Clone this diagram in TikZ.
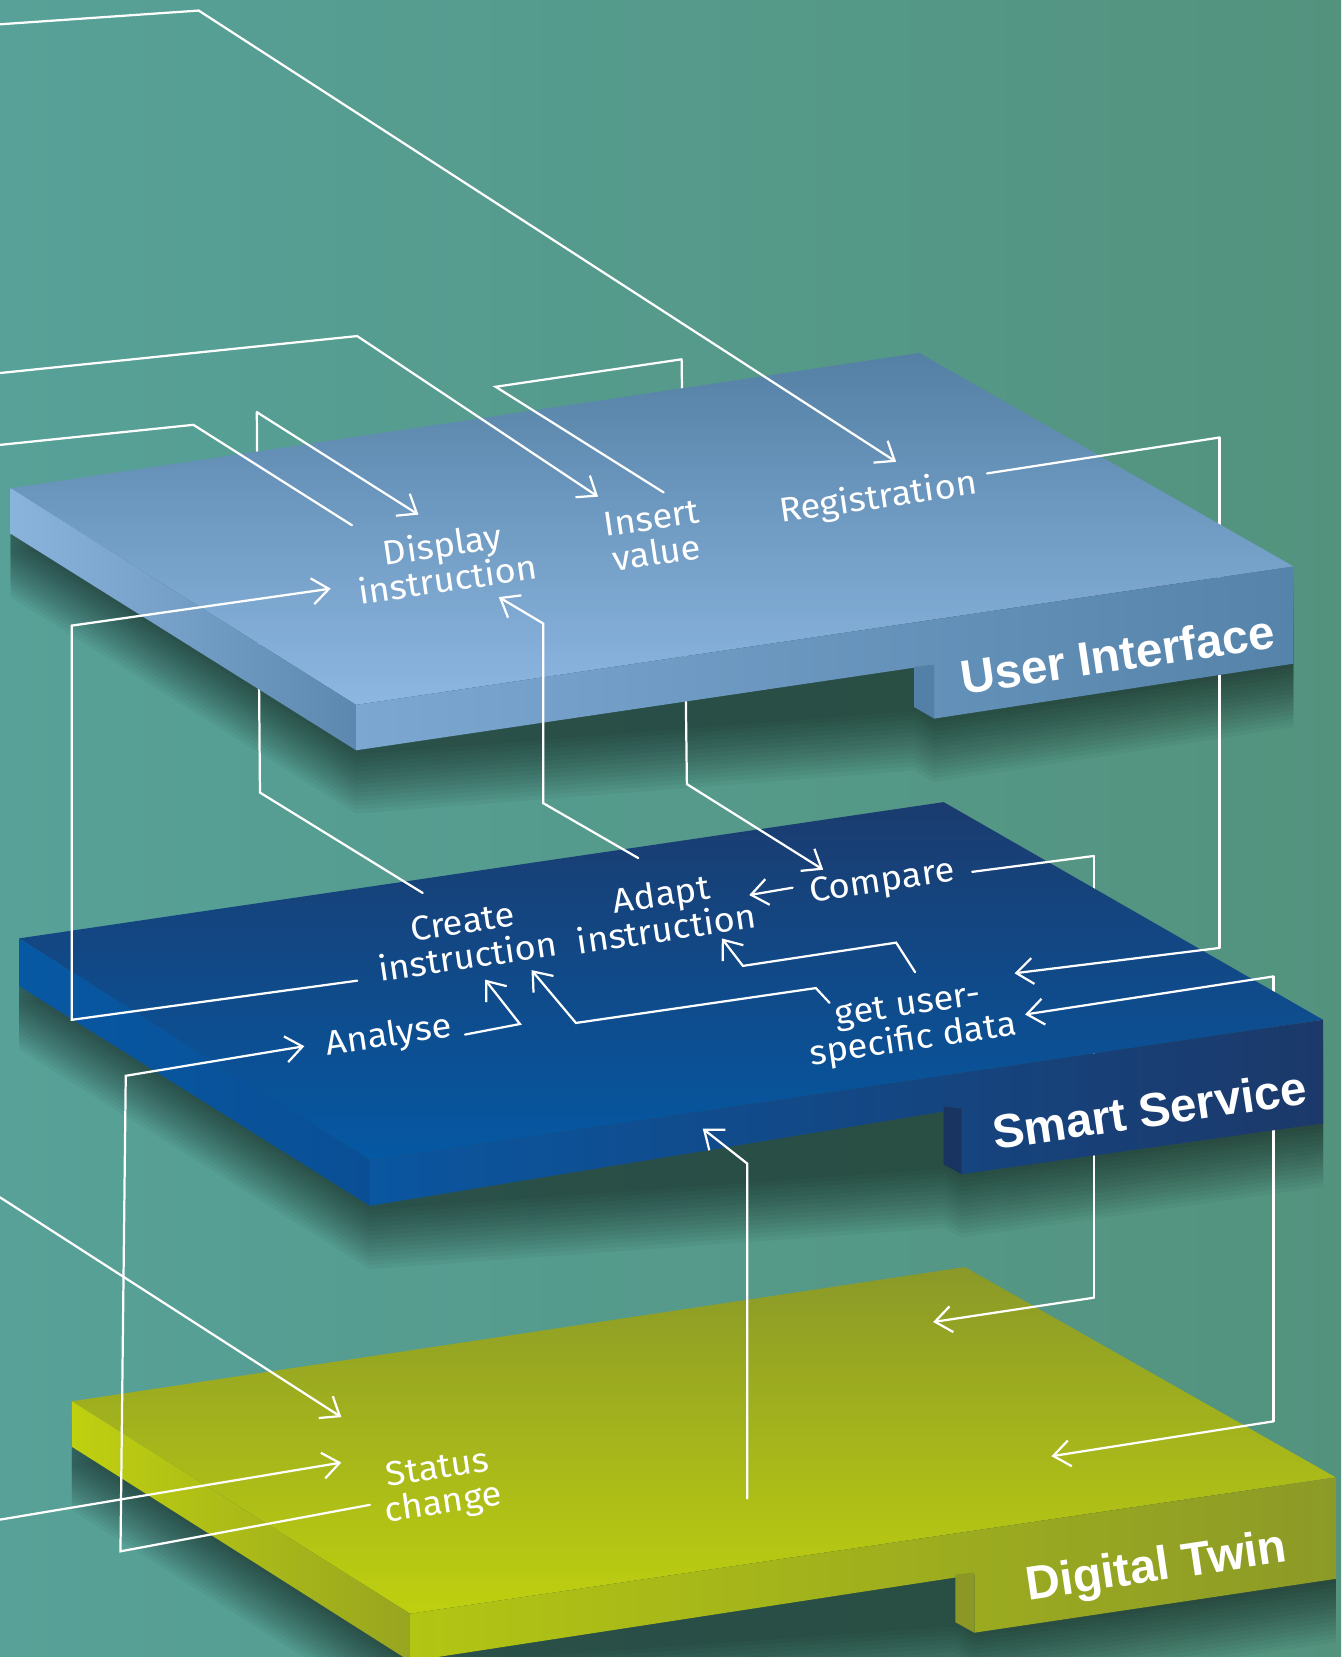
\documentclass[tikz,border=0pt]{standalone}
\usepackage{fontspec}
\usetikzlibrary{arrows.meta}
\IfFontExistsTF{Fira Sans Book}
 {\newfontfamily\labfont[FakeStretch=1.06]{Fira Sans Book}}
 {\newfontfamily\labfont[FakeStretch=1.06]{Fira Sans}}
\newfontfamily\titlefont{Liberation Sans}
\definecolor{bgL}{HTML}{57A198}
\definecolor{bgR}{HTML}{53937E}
\definecolor{uiTopBack}{HTML}{5480A5}
\definecolor{uiTopFront}{HTML}{8DB7E1}
\definecolor{uiSideL}{HTML}{8BB4DD}
\definecolor{uiSideR}{HTML}{5C88AF}
\definecolor{uiFrontL}{HTML}{7CA7D1}
\definecolor{uiFrontR}{HTML}{5583A9}
\definecolor{uiTab}{HTML}{5280A6}
\definecolor{ssTopBack}{HTML}{1B3C6F}
\definecolor{ssTopFront}{HTML}{0558A3}
\definecolor{ssSideL}{HTML}{0758A3}
\definecolor{ssSideR}{HTML}{0A4F96}
\definecolor{ssFrontL}{HTML}{0A56A0}
\definecolor{ssFrontR}{HTML}{1C396A}
\definecolor{ssTab}{HTML}{1A3462}
\definecolor{dtTopBack}{HTML}{8A9928}
\definecolor{dtTopFront}{HTML}{BFD00F}
\definecolor{dtSideL}{HTML}{BFD010}
\definecolor{dtSideR}{HTML}{98A520}
\definecolor{dtFrontL}{HTML}{B3C513}
\definecolor{dtFrontR}{HTML}{8C9A27}
\definecolor{dtTab}{HTML}{8B9826}
\tikzset{
  conn/.style={draw=white, line width=1.2pt, line cap=round},
  >={Straight Barb[length=9pt,width=14pt]},
  lab/.style={text=white, font=\labfont\fontsize{18.5}{19}\selectfont, align=center, rotate=8.4, inner sep=0pt},
  ttl/.style={text=white, font=\titlefont\bfseries\fontsize{25.6}{25.6}\selectfont, rotate=8.4, inner sep=0pt, anchor=base},
  shadowfill/.style={fill=black, opacity=0.04}
}
\begin{document}
\begin{tikzpicture}[x=0.02cm,y=-0.02cm]
\useasboundingbox (0,0) rectangle (1269,1568);
\shade[left color=bgL, right color=bgR] (0,0) rectangle (1269,1568);

% ---------- coordinates of connector ends ----------
\coordinate (c1a) at (0,23);    \coordinate (c1b) at (188,10);   \coordinate (c1c) at (848,437);
\coordinate (c2a) at (0,353);   \coordinate (c2b) at (338,318);  \coordinate (c2c) at (566,470);
\coordinate (c3a) at (333,497); \coordinate (c3b) at (183,402);  \coordinate (c3c) at (0,421);
\coordinate (c4a) at (400,845); \coordinate (c4b) at (246,750);  \coordinate (c4c) at (243,390); \coordinate (c4d) at (396,487);
\coordinate (c5a) at (338,928); \coordinate (c5b) at (68,965);   \coordinate (c5c) at (68,592);  \coordinate (c5d) at (313,557);
\coordinate (c6a) at (604,812); \coordinate (c6b) at (514,760);  \coordinate (c6c) at (514,590); \coordinate (c6d) at (472,565);
\coordinate (c7a) at (628,466); \coordinate (c7b) at (469,366);  \coordinate (c7c) at (645,340); \coordinate (c7d) at (650,742); \coordinate (c7e) at (779,823);
\coordinate (c8a) at (934,448); \coordinate (c8b) at (1154,414); \coordinate (c8c) at (1154,897); \coordinate (c8d) at (960,921);
\coordinate (c9a) at (920,825); \coordinate (c9b) at (1035,810); \coordinate (c9c) at (1035,1228); \coordinate (c9d) at (883,1251);
\coordinate (c10a) at (970,960); \coordinate (c10b) at (1205,924); \coordinate (c10c) at (1205,1345); \coordinate (c10d) at (995,1378);
\coordinate (c11a) at (707,1418); \coordinate (c11b) at (707,1101); \coordinate (c11c) at (665,1068);
\coordinate (c12a) at (350,1424); \coordinate (c12b) at (114,1468); \coordinate (c12c) at (119,1018); \coordinate (c12d) at (288,990);
\coordinate (c13a) at (440,979); \coordinate (c13b) at (492,969); \coordinate (c13c) at (459,927);
\coordinate (c14a) at (785,949); \coordinate (c14b) at (772,935); \coordinate (c14c) at (545,968); \coordinate (c14d) at (503,918);
\coordinate (c15a) at (866,920); \coordinate (c15b) at (848,892); \coordinate (c15c) at (703,914); \coordinate (c15d) at (683,888);
\coordinate (c16a) at (750,840); \coordinate (c16b) at (709,847);
\coordinate (c17a) at (0,1133); \coordinate (c17b) at (323,1341);
\coordinate (c18a) at (0,1438); \coordinate (c18b) at (323,1384);

% ---------- shadows ----------
\foreach \d in {4,8,...,60}{
  \begin{scope}[shift={(0,\d)}]
    \fill[shadowfill] (10,462) -- (870,334) -- (1224,536) -- (1224,628) -- (884,680) -- (865,669) -- (337,710) -- (10,505) -- cycle;
    \fill[shadowfill] (18,888) -- (893,759) -- (1252,965) -- (1252,1063) -- (910,1111) -- (893,1102) -- (350,1141) -- (18,933) -- cycle;
    \fill[shadowfill] (68,1326) -- (913,1199) -- (1264,1398) -- (1264,1494) -- (922,1545) -- (904,1535) -- (388,1572) -- (68,1369) -- cycle;
  \end{scope}
}

% ---------- slab: Digital Twin ----------
\shade[top color=dtTopBack, bottom color=dtTopFront] (68,1326) -- (913,1199) -- (1264,1398) -- (388,1527) -- cycle;
\shade[left color=dtSideL, right color=dtSideR] (68,1326) -- (388,1527) -- (388,1572) -- (68,1369) -- cycle;
\shade[left color=dtFrontL, right color=dtFrontR] (388,1527) -- (1264,1398) -- (1264,1494) -- (922,1545) -- (922,1490) -- (388,1572) -- cycle;
\fill[dtTab] (904,1490) -- (922,1488) -- (922,1545) -- (904,1535) -- cycle;
\node[ttl] (dt) at (1096,1496) {Digital Twin};

% segments hidden behind Smart Service slab
\draw[conn] (c9b) -- (c9c);
\draw[conn] (c10b) -- (c10c);

% ---------- slab: Smart Service ----------
\shade[top color=ssTopBack, bottom color=ssTopFront] (18,888) -- (893,759) -- (1252,965) -- (350,1098) -- cycle;
\shade[left color=ssSideL, right color=ssSideR] (18,888) -- (350,1098) -- (350,1141) -- (18,933) -- cycle;
\shade[left color=ssFrontL, right color=ssFrontR] (350,1098) -- (1252,965) -- (1252,1063) -- (910,1111) -- (910,1049) -- (350,1141) -- cycle;
\fill[ssTab] (893,1047) -- (910,1049) -- (910,1111) -- (893,1102) -- cycle;
\node[ttl] (ss) at (1090,1066) {Smart Service};

% segments hidden behind User Interface slab
\draw[conn] (c4b) -- (c4c);
\draw[conn] (c7c) -- (c7d);
\draw[conn] (c8b) -- (c8c);

% ---------- slab: User Interface ----------
\shade[top color=uiTopBack, bottom color=uiTopFront] (10,462) -- (870,334) -- (1224,536) -- (337,667) -- cycle;
\shade[left color=uiSideL, right color=uiSideR] (10,462) -- (337,667) -- (337,710) -- (10,505) -- cycle;
\shade[left color=uiFrontL, right color=uiFrontR] (337,667) -- (1224,536) -- (1224,628) -- (884,680) -- (884,629) -- (337,710) -- cycle;
\fill[uiTab] (865,631) -- (884,629) -- (884,680) -- (865,669) -- cycle;
\node[ttl] (ui) at (1060,635) {User Interface};

% ---------- labels ----------
\node[lab] (disp) at (421,531) {Display\\instruction};
\node[lab] (ins) at (619,507) {Insert\\value};
\node[lab] (reg) at (831,472) {Registration};
\node[lab] (create) at (440,889) {Create\\instruction};
\node[lab] (adapt) at (628,862) {Adapt\\instruction};
\node[lab] (comp) at (835,836) {Compare};
\node[lab] (anal) at (368,981) {Analyse};
\node[lab] (gus) at (862,970) {get user-\\specific data};
\node[lab] (status) at (417,1408) {Status\\change};

% ---------- connectors ----------
\draw[conn,->] (c1a) -- (c1b) -- (c1c);
\draw[conn,->] (c2a) -- (c2b) -- (c2c);
\draw[conn] (c3a) -- (c3b) -- (c3c);
\draw[conn] (c4a) -- (c4b);
\draw[conn,->] (c4c) -- (c4d);
\draw[conn,->] (c5a) -- (c5b) -- (c5c) -- (c5d);
\draw[conn,->] (c6a) -- (c6b) -- (c6c) -- (c6d);
\draw[conn] (c7a) -- (c7b) -- (c7c);
\draw[conn,->] (c7d) -- (c7e);
\draw[conn] (c8a) -- (c8b);
\draw[conn,->] (c8c) -- (c8d);
\draw[conn] (c9a) -- (c9b);
\draw[conn,->] (c9c) -- (c9d);
\draw[conn,<-] (c10a) -- (c10b);
\draw[conn,->] (c10c) -- (c10d);
\draw[conn,->] (c11a) -- (c11b) -- (c11c);
\draw[conn,->] (c12a) -- (c12b) -- (c12c) -- (c12d);
\draw[conn,->] (c13a) -- (c13b) -- (c13c);
\draw[conn,->] (c14a) -- (c14b) -- (c14c) -- (c14d);
\draw[conn,->] (c15a) -- (c15b) -- (c15c) -- (c15d);
\draw[conn,->] (c16a) -- (c16b);
\draw[conn,->] (c17a) -- (c17b);
\draw[conn,->] (c18a) -- (c18b);
\end{tikzpicture}
\end{document}
